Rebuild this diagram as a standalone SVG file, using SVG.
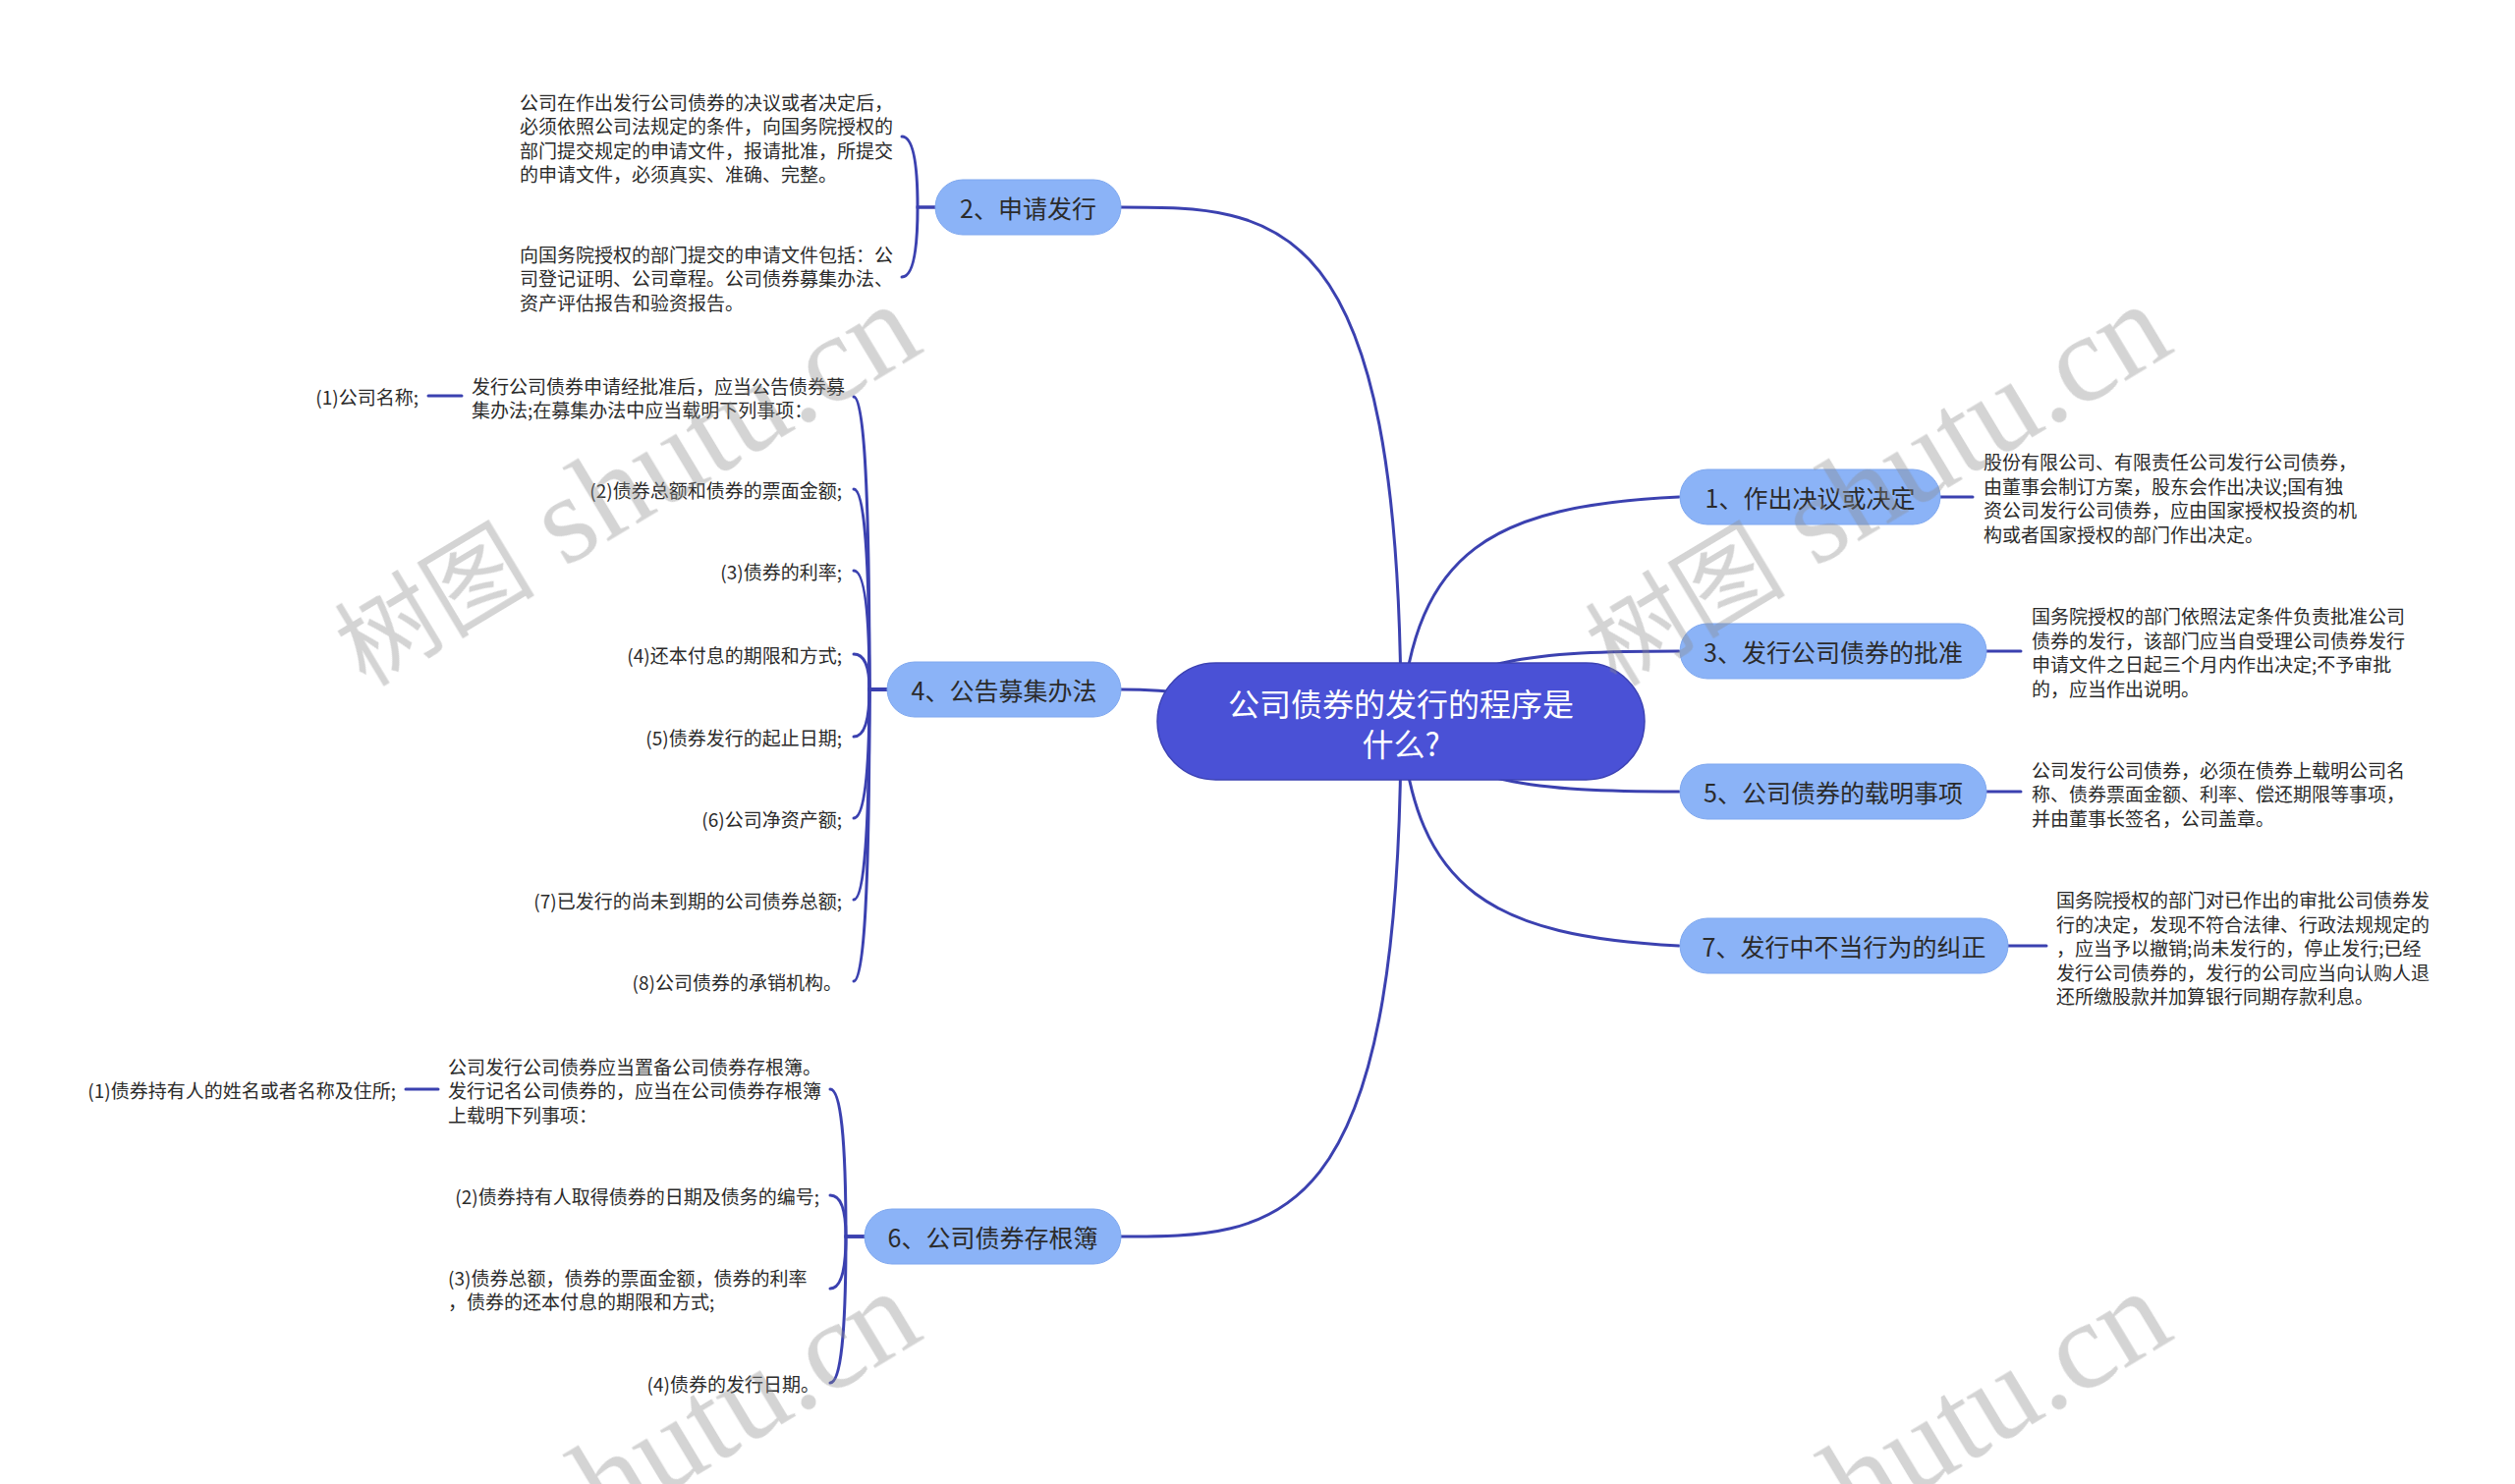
<svg xmlns="http://www.w3.org/2000/svg" width="2560" height="1511" viewBox="0 0 2560 1511">
<style>
.conn{fill:none;stroke:#3b41b0;stroke-width:3;stroke-linecap:round}
.br rect{fill:#8bb3f7;stroke:#7ea7ef;stroke-width:1}
.br text{font-family:"Noto Sans CJK SC",sans-serif;font-size:25px;fill:#2b2b2b;text-anchor:middle;dominant-baseline:central}
.lf{font-family:"Noto Sans CJK SC",sans-serif;font-size:19px;fill:#2b2b2b;dominant-baseline:central}
.end{text-anchor:end}
.wm{fill:#8c8c8c;opacity:0.38}
.wc{font-family:"Noto Sans CJK SC",sans-serif;font-size:102px}
.wl{font-family:"Liberation Serif",serif;font-size:128px}
</style>
<rect width="2560" height="1511" fill="#ffffff"/>
<g id="connectors">
<path class="conn" d="M1426 734 C1426 211 1300 211 1141 211"/>
<path class="conn" d="M1426 734 C1300 734 1260 702 1141 702"/>
<path class="conn" d="M1426 734 C1426 1259 1300 1259 1141 1259"/>
<path class="conn" d="M1426 734 C1440 560 1520 515 1709 506"/>
<path class="conn" d="M1426 734 C1480 670 1560 663 1709 663"/>
<path class="conn" d="M1426 734 C1480 798 1560 806 1709 806"/>
<path class="conn" d="M1426 734 C1440 908 1520 953 1709 963"/>
<path class="conn" d="M1975 506 H2008"/>
<path class="conn" d="M2022 663 H2057"/>
<path class="conn" d="M2022 806 H2057"/>
<path class="conn" d="M2044 963 H2083"/>
<path class="conn" d="M952 211 H934 Q934 139 918 139"/>
<path class="conn" d="M952 211 H934 Q934 282 918 282"/>
<path class="conn" d="M903 702 H885 Q885 404 869 404"/>
<path class="conn" d="M903 702 H885 Q885 498 869 498"/>
<path class="conn" d="M903 702 H885 Q885 581 869 581"/>
<path class="conn" d="M903 702 H885 Q885 666 869 666"/>
<path class="conn" d="M903 702 H885 Q885 750 869 750"/>
<path class="conn" d="M903 702 H885 Q885 833 869 833"/>
<path class="conn" d="M903 702 H885 Q885 916 869 916"/>
<path class="conn" d="M903 702 H885 Q885 999 869 999"/>
<path class="conn" d="M470 403 H436"/>
<path class="conn" d="M880 1259 H861 Q861 1109 845 1109"/>
<path class="conn" d="M880 1259 H861 Q861 1217 845 1217"/>
<path class="conn" d="M880 1259 H861 Q861 1312 845 1312"/>
<path class="conn" d="M880 1259 H861 Q861 1408 845 1408"/>
<path class="conn" d="M446 1109 H413"/>
</g>
<g id="root">
<rect x="1178" y="675" width="496" height="119" rx="59.5" fill="#4a51d6" stroke="#3c42b4" stroke-width="1.5"/>
<text x="1426" y="715" font-family="Noto Sans CJK SC,sans-serif" font-size="32" fill="#ffffff" text-anchor="middle" dominant-baseline="central">公司债券的发行的程序是</text>
<text x="1426" y="756" font-family="Noto Sans CJK SC,sans-serif" font-size="32" fill="#ffffff" text-anchor="middle" dominant-baseline="central">什么?</text>
</g>
<g id="n1" class="br"><rect x="1710" y="478" width="265" height="56" rx="28"/><text x="1842.5" y="506">1、作出决议或决定</text></g>
<g id="n3" class="br"><rect x="1710" y="635" width="312" height="56" rx="28"/><text x="1866" y="663">3、发行公司债券的批准</text></g>
<g id="n5" class="br"><rect x="1710" y="778" width="312" height="56" rx="28"/><text x="1866" y="806">5、公司债券的载明事项</text></g>
<g id="n7" class="br"><rect x="1710" y="935" width="334" height="56" rx="28"/><text x="1877" y="963">7、发行中不当行为的纠正</text></g>
<g id="n2" class="br"><rect x="952" y="183" width="189" height="56" rx="28"/><text x="1046.5" y="211">2、申请发行</text></g>
<g id="n4" class="br"><rect x="903" y="674" width="238" height="56" rx="28"/><text x="1022" y="702">4、公告募集办法</text></g>
<g id="n6" class="br"><rect x="880" y="1231" width="261" height="56" rx="28"/><text x="1010.5" y="1259">6、公司债券存根簿</text></g>
<g id="n1-1"><text class="lf" x="2019"><tspan x="2019" y="469.25">股份有限公司、有限责任公司发行公司债券，</tspan><tspan x="2019" y="493.75">由董事会制订方案，股东会作出决议;国有独</tspan><tspan x="2019" y="518.25">资公司发行公司债券，应由国家授权投资的机</tspan><tspan x="2019" y="542.75">构或者国家授权的部门作出决定。</tspan></text></g>
<g id="n3-1"><text class="lf" x="2068"><tspan x="2068" y="626.25">国务院授权的部门依照法定条件负责批准公司</tspan><tspan x="2068" y="650.75">债券的发行，该部门应当自受理公司债券发行</tspan><tspan x="2068" y="675.25">申请文件之日起三个月内作出决定;不予审批</tspan><tspan x="2068" y="699.75">的，应当作出说明。</tspan></text></g>
<g id="n5-1"><text class="lf" x="2068"><tspan x="2068" y="782.5">公司发行公司债券，必须在债券上载明公司名</tspan><tspan x="2068" y="807">称、债券票面金额、利率、偿还期限等事项，</tspan><tspan x="2068" y="831.5">并由董事长签名，公司盖章。</tspan></text></g>
<g id="n7-1"><text class="lf" x="2093"><tspan x="2093" y="915">国务院授权的部门对已作出的审批公司债券发</tspan><tspan x="2093" y="939.5">行的决定，发现不符合法律、行政法规规定的</tspan><tspan x="2093" y="964">，应当予以撤销;尚未发行的，停止发行;已经</tspan><tspan x="2093" y="988.5">发行公司债券的，发行的公司应当向认购人退</tspan><tspan x="2093" y="1013">还所缴股款并加算银行同期存款利息。</tspan></text></g>
<g id="n2-1"><text class="lf" x="529"><tspan x="529" y="102.75">公司在作出发行公司债券的决议或者决定后，</tspan><tspan x="529" y="127.25">必须依照公司法规定的条件，向国务院授权的</tspan><tspan x="529" y="151.75">部门提交规定的申请文件，报请批准，所提交</tspan><tspan x="529" y="176.25">的申请文件，必须真实、准确、完整。</tspan></text></g>
<g id="n2-2"><text class="lf" x="529"><tspan x="529" y="257.5">向国务院授权的部门提交的申请文件包括：公</tspan><tspan x="529" y="282">司登记证明、公司章程。公司债券募集办法、</tspan><tspan x="529" y="306.5">资产评估报告和验资报告。</tspan></text></g>
<g id="n4-1"><text class="lf" x="480"><tspan x="480" y="391.75">发行公司债券申请经批准后，应当公告债券募</tspan><tspan x="480" y="416.25">集办法;在募集办法中应当载明下列事项：</tspan></text></g>
<g id="n4-1-1"><text class="lf end" x="426" y="403">(1)公司名称;</text></g>
<g id="n4-2"><text class="lf end" x="857" y="498">(2)债券总额和债券的票面金额;</text></g>
<g id="n4-3"><text class="lf end" x="857" y="581">(3)债券的利率;</text></g>
<g id="n4-4"><text class="lf end" x="857" y="666">(4)还本付息的期限和方式;</text></g>
<g id="n4-5"><text class="lf end" x="857" y="750">(5)债券发行的起止日期;</text></g>
<g id="n4-6"><text class="lf end" x="857" y="833">(6)公司净资产额;</text></g>
<g id="n4-7"><text class="lf end" x="857" y="916">(7)已发行的尚未到期的公司债券总额;</text></g>
<g id="n4-8"><text class="lf end" x="857" y="999">(8)公司债券的承销机构。</text></g>
<g id="n6-1"><text class="lf" x="456"><tspan x="456" y="1084.5">公司发行公司债券应当置备公司债券存根簿。</tspan><tspan x="456" y="1109">发行记名公司债券的，应当在公司债券存根簿</tspan><tspan x="456" y="1133.5">上载明下列事项：</tspan></text></g>
<g id="n6-1-1"><text class="lf end" x="403" y="1109">(1)债券持有人的姓名或者名称及住所;</text></g>
<g id="n6-2"><text class="lf end" x="834" y="1217">(2)债券持有人取得债券的日期及债务的编号;</text></g>
<g id="n6-3"><text class="lf" x="456"><tspan x="456" y="1299.75">(3)债券总额，债券的票面金额，债券的利率</tspan><tspan x="456" y="1324.25">，债券的还本付息的期限和方式;</tspan></text></g>
<g id="n6-4"><text class="lf end" x="834" y="1408">(4)债券的发行日期。</text></g>
<g id="watermark" class="wm">
<text transform="translate(372 700) rotate(-31)"><tspan class="wc">树图</tspan><tspan class="wl"> shutu.cn</tspan></text>
<text transform="translate(1645 700) rotate(-31)"><tspan class="wc">树图</tspan><tspan class="wl"> shutu.cn</tspan></text>
<text transform="translate(372 1705) rotate(-31)"><tspan class="wc">树图</tspan><tspan class="wl"> shutu.cn</tspan></text>
<text transform="translate(1645 1705) rotate(-31)"><tspan class="wc">树图</tspan><tspan class="wl"> shutu.cn</tspan></text>
</g>
</svg>
